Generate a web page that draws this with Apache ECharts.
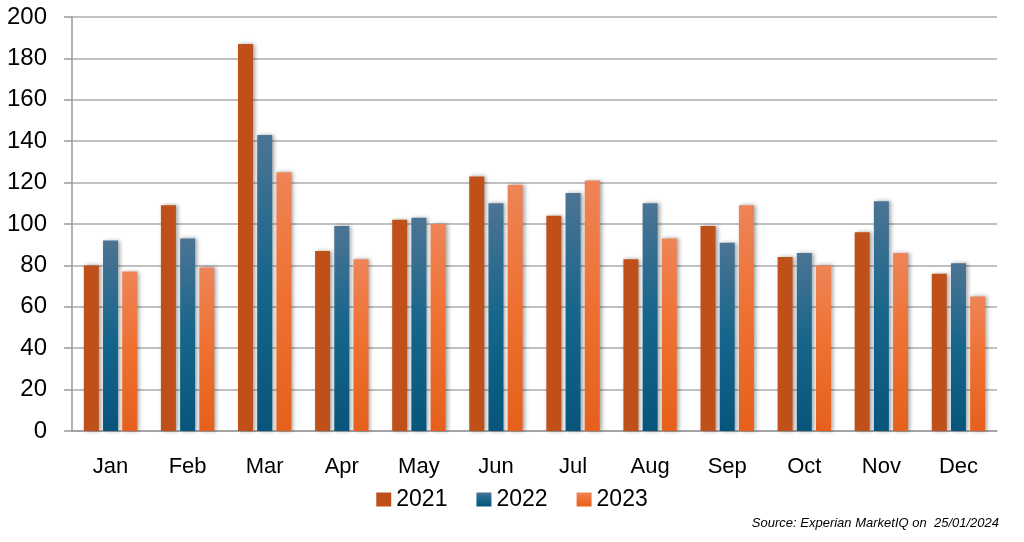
<!DOCTYPE html>
<html>
<head>
<meta charset="utf-8">
<script src="https://cdn.jsdelivr.net/npm/echarts@6/dist/echarts.min.js"></script>
<style>
html,body{margin:0;padding:0;background:#fff;}
#chart{width:1024px;height:542px;}
</style>
</head>
<body>
<div id="chart"></div>
<script>
var months = ['Jan','Feb','Mar','Apr','May','Jun','Jul','Aug','Sep','Oct','Nov','Dec'];
var seriesNames = ['2021','2022','2023'];
var values2021 = [80,109,187,87,102,123,104,83,99,84,96,76];
var values2022 = [92,93,143,99,103,110,115,110,91,86,111,81];
var values2023 = [77,79,125,83,100,119,121,93,109,80,86,65];
var sourceText = 'Source: Experian MarketIQ on  25/01/2024';

var chart = echarts.init(document.getElementById('chart'), null, {renderer:'canvas'});
var shadow = {shadowColor:'rgba(0,0,0,0.35)', shadowBlur:4, shadowOffsetX:2, shadowOffsetY:0};
function grad(stops){ return new echarts.graphic.LinearGradient(0,0,0,1,stops); }
var fill2021 = '#C0501A';
var fill2022 = grad([{offset:0,color:'#4C7494'},{offset:0.5,color:'#16658B'},{offset:1,color:'#07557B'}]);
var fill2023 = grad([{offset:0,color:'#EE8457'},{offset:0.5,color:'#EE7030'},{offset:1,color:'#E5601C'}]);

var option = {
  backgroundColor:'#fff',
  animation:false,
  grid:{left:72, right:27, top:17, bottom:111, containLabel:false},
  legend:{
    bottom:26, left:'center',
    itemWidth:15, itemHeight:14, itemGap:29,
    icon:'rect',
    textStyle:{fontFamily:'Liberation Sans, Arial, sans-serif', fontSize:23, color:'#000', padding:[0,0,0,0]},
    data:seriesNames
  },
  title:{
    text:sourceText, right:20, bottom:7,
    textStyle:{fontFamily:'Liberation Sans, Arial, sans-serif', fontStyle:'italic', fontWeight:'normal', fontSize:13, color:'#000'}
  },
  xAxis:{
    type:'category', data:months,
    axisLine:{show:true, lineStyle:{color:'#9a9a9a', width:1.5}},
    axisTick:{show:false},
    axisLabel:{color:'#000', fontFamily:'Liberation Sans, Arial, sans-serif', fontSize:22, margin:25}
  },
  yAxis:{
    type:'value', min:0, max:200, interval:20,
    axisLine:{show:true, lineStyle:{color:'#9a9a9a', width:1.5}},
    axisTick:{show:true, length:8, lineStyle:{color:'#9a9a9a', width:1.5}},
    axisLabel:{color:'#000', fontFamily:'Liberation Sans, Arial, sans-serif', fontSize:24, margin:25},
    splitLine:{show:true, lineStyle:{color:'#ababab', width:1.6}}
  },
  series:[
    {name:seriesNames[0], type:'bar', data:values2021, barWidth:15, barGap:'28%', itemStyle:Object.assign({color:fill2021}, shadow)},
    {name:seriesNames[1], type:'bar', data:values2022, barWidth:15, barGap:'28%', itemStyle:Object.assign({color:fill2022}, shadow)},
    {name:seriesNames[2], type:'bar', data:values2023, barWidth:15, barGap:'28%', itemStyle:Object.assign({color:fill2023}, shadow)}
  ]
};
chart.setOption(option);
</script>
</body>
</html>
